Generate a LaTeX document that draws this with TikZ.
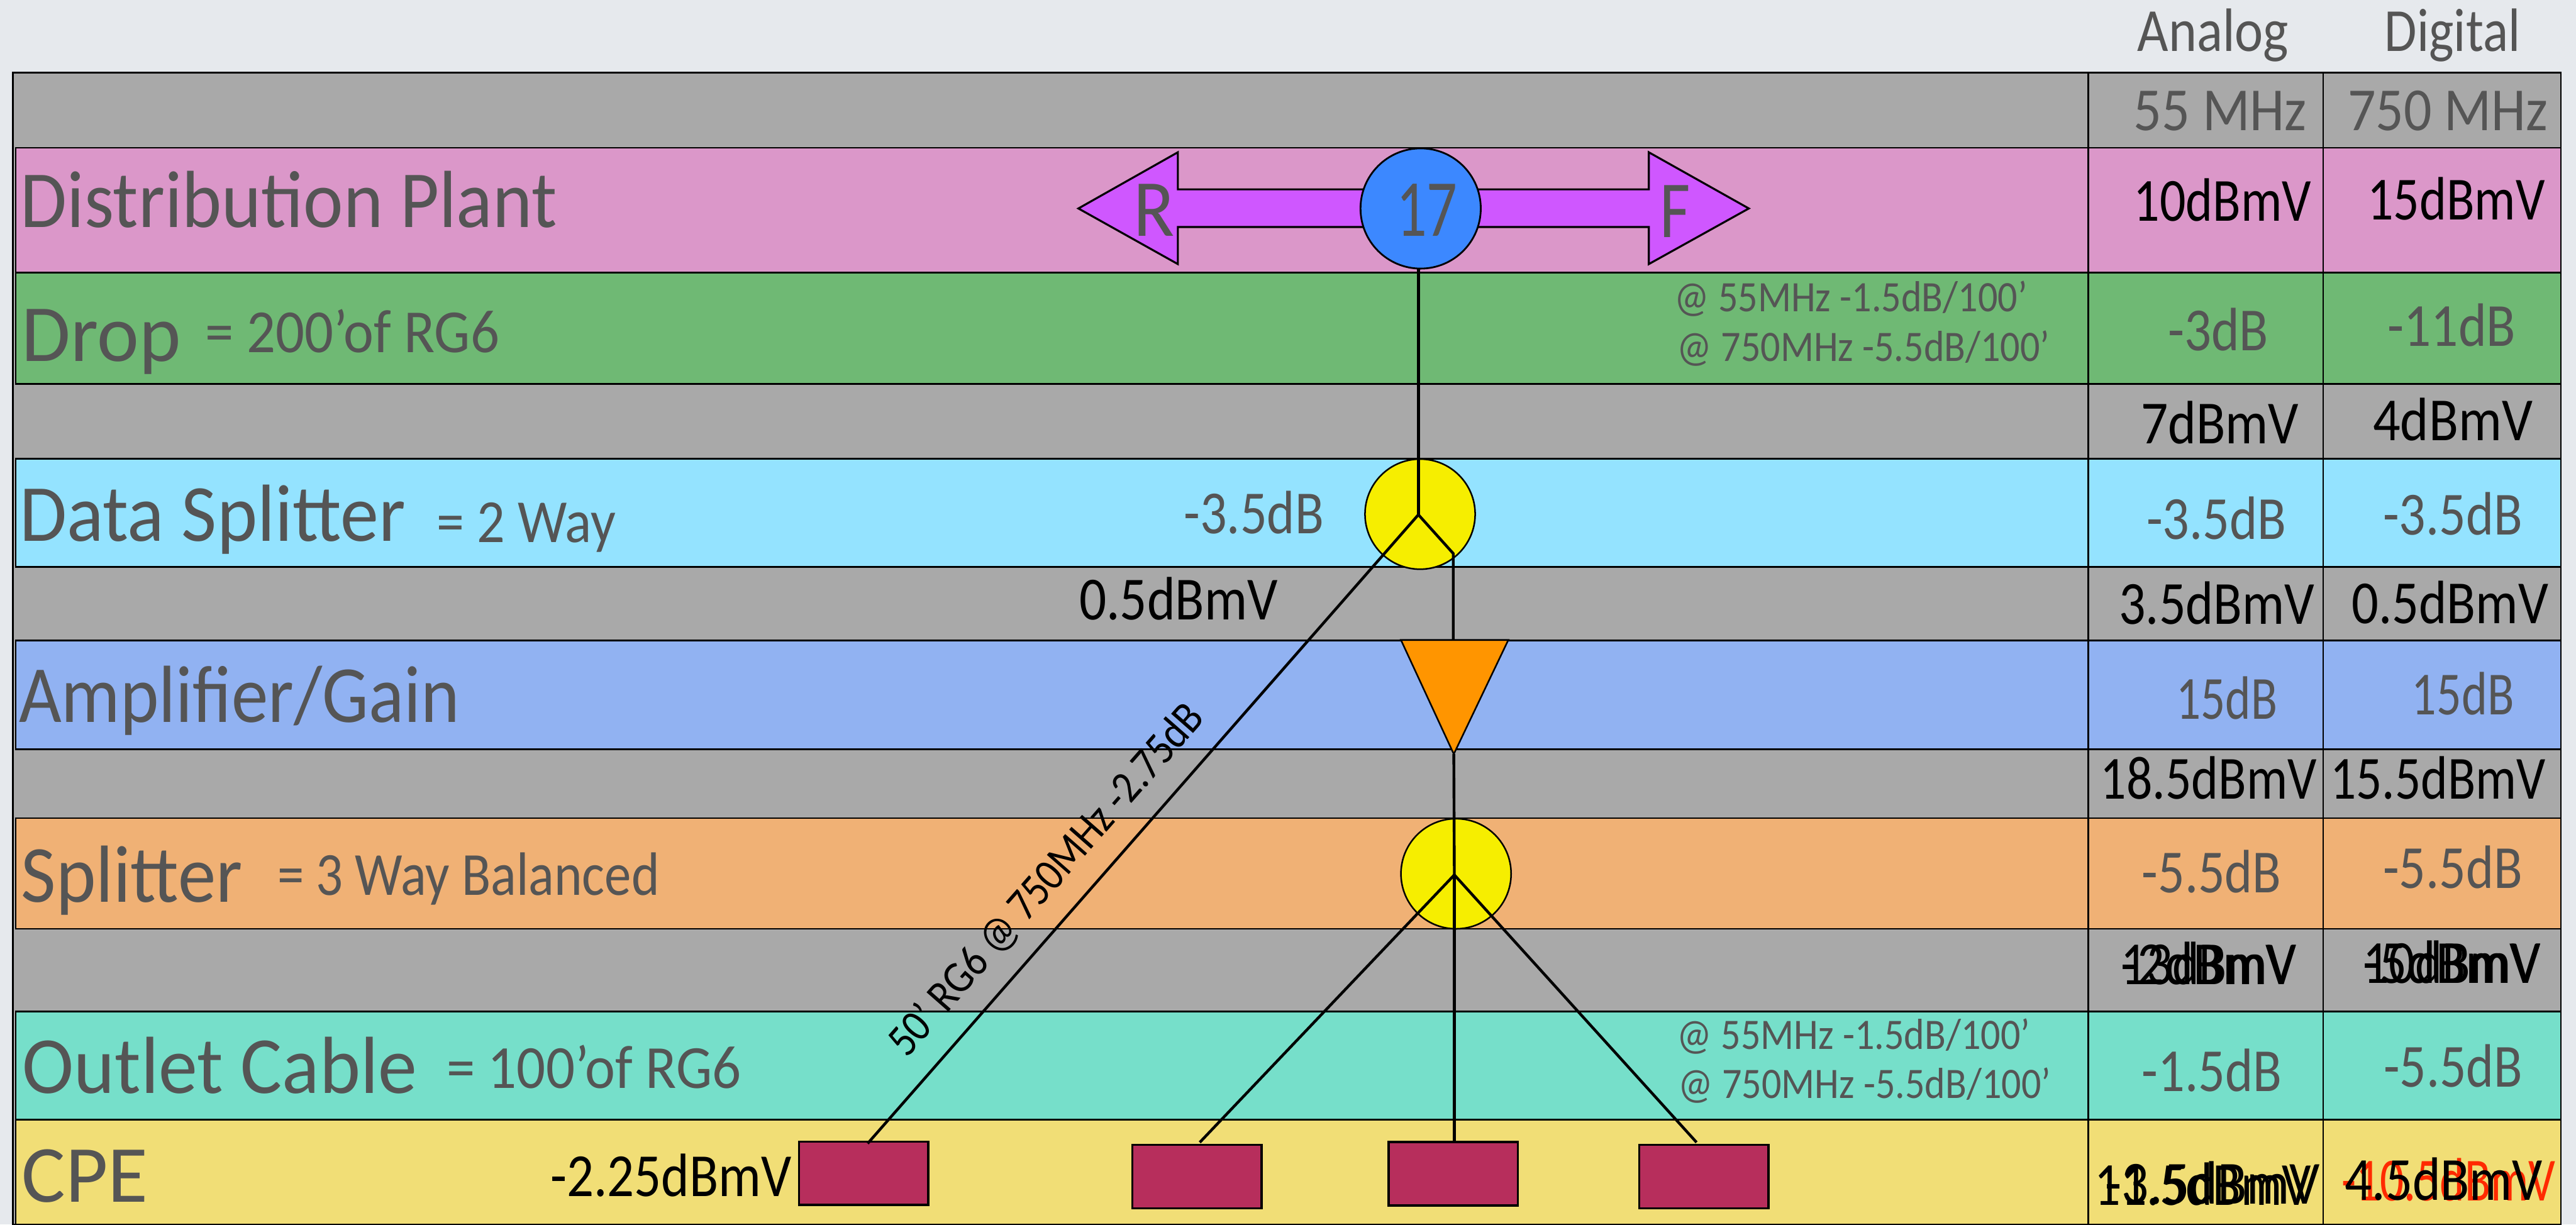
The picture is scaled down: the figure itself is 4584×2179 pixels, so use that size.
\documentclass[tikz,border=0pt]{standalone}
\usepackage{fontspec}
\usepackage{graphicx}
\setmainfont{Carlito}
\setlength{\unitlength}{0.01cm}
\definecolor{pagebg}{HTML}{E6E9ED}
\definecolor{rowgray}{HTML}{A9A9A9}
\definecolor{rowpink}{HTML}{DB97C9}
\definecolor{rowgreen}{HTML}{6FB974}
\definecolor{rowsky}{HTML}{94E3FF}
\definecolor{rowblue}{HTML}{91B2F2}
\definecolor{roworange}{HTML}{F0B175}
\definecolor{rowteal}{HTML}{76DFCA}
\definecolor{rowyellow}{HTML}{F1DE76}
\definecolor{arrowpurple}{HTML}{CF57FF}
\definecolor{nodeblue}{HTML}{3C88FF}
\definecolor{splityellow}{HTML}{F6EE00}
\definecolor{ampor}{HTML}{FF9500}
\definecolor{cpered}{HTML}{B72E5C}
\definecolor{txtgray}{HTML}{555555}
\definecolor{txtred}{HTML}{FF2A00}
\tikzset{
  big/.style={font=\fontsize{41}{48}\selectfont,text=txtgray},
  midg/.style={font=\fontsize{31}{36}\selectfont,text=txtgray},
  midk/.style={font=\fontsize{31}{36}\selectfont,text=black},
  midr/.style={font=\fontsize{31}{36}\selectfont,text=txtred},
  note/.style={font=\fontsize{22}{26}\selectfont,text=txtgray},
  rot/.style={font=\fontsize{23}{27}\selectfont,text=black},
  cellline/.style={draw=black,line width=0.9pt},
  wire/.style={draw=black,line width=1.4pt},
  splitter/.style={circle,draw=black,line width=0.8pt,fill=splityellow,inner sep=0pt,minimum size=196\unitlength},
  cpebox/.style={rectangle,draw=black,line width=1.1pt,fill=cpered,inner sep=0pt,minimum width=230\unitlength,minimum height=113\unitlength},
}
\newcommand{\lbl}[6]{\node[#5,anchor=base west,inner sep=0pt] (#1) at (#2,#3) {\resizebox{#4\unitlength}{\height}{#6}};}
\newcommand{\band}[3]{\draw[cellline,fill=#3] (28,#1) rectangle (4557,#2);}
\begin{document}
\begin{tikzpicture}[x=0.01cm,y=-0.01cm]
\useasboundingbox (0,0) rectangle (4584,2179);
\fill[pagebg] (0,0) rectangle (4584,2179);
% table
\draw[cellline,fill=rowgray] (23,129) rectangle (4557,2179);
\band{263}{485}{rowpink}
\band{485}{683}{rowgreen}
\band{816}{1009}{rowsky}
\band{1140}{1333}{rowblue}
\band{1456}{1653}{roworange}
\band{1800}{1993}{rowteal}
\band{1993}{2179}{rowyellow}
\draw[cellline] (3716,129) -- (3716,2179) (4134,129) -- (4134,2179);
% headings
\lbl{hAnalog}{3803}{91}{269}{midg}{Analog}
\lbl{hDigital}{4243}{91}{241}{midg}{Digital}
\lbl{h55}{3796}{232}{308}{midg}{55 MHz}
\lbl{h750}{4177}{232}{356}{midg}{750 MHz}
% row titles
\lbl{tDist}{36}{405}{955}{big}{Distribution Plant}
\lbl{tDrop}{38}{643}{283}{big}{Drop}
\lbl{tDropN}{365}{627}{523}{midg}{= 200’of RG6}
\lbl{tData}{34}{963}{687}{big}{Data Splitter}
\lbl{tDataN}{777}{965}{318}{midg}{= 2 Way}
\lbl{tAmp}{33}{1285}{784}{big}{Amplifier/Gain}
\lbl{tSplit}{37}{1605}{394}{big}{Splitter}
\lbl{tSplitN}{493}{1593}{680}{midg}{= 3 Way Balanced}
\lbl{tOut}{39}{1946}{703}{big}{Outlet Cable}
\lbl{tOutN}{794}{1937}{524}{midg}{= 100’of RG6}
\lbl{tCpe}{38}{2139}{225}{big}{CPE}
% notes
\lbl{nA}{2979}{555}{628}{note}{@ 55MHz -1.5dB/100’}
\lbl{nB}{2984}{643}{663}{note}{@ 750MHz -5.5dB/100’}
\lbl{nC}{2984}{1867}{628}{note}{@ 55MHz -1.5dB/100’}
\lbl{nD}{2986}{1955}{663}{note}{@ 750MHz -5.5dB/100’}
% values analog / digital
\lbl{a1}{3796}{393}{316}{midk}{10dBmV}
\lbl{d1}{4212}{391}{316}{midk}{15dBmV}
\lbl{a2}{3857}{624}{179}{midg}{-3dB}
\lbl{d2}{4248}{616}{228}{midg}{-11dB}
\lbl{a3}{3809}{789}{281}{midk}{7dBmV}
\lbl{d3}{4222}{784}{284}{midk}{4dBmV}
\lbl{a4}{3819}{960}{249}{midg}{-3.5dB}
\lbl{d4}{4240}{952}{248}{midg}{-3.5dB}
\lbl{a5}{3770}{1111}{348}{midk}{3.5dBmV}
\lbl{d5}{4184}{1110}{350}{midk}{0.5dBmV}
\lbl{a6}{3872}{1280}{180}{midg}{15dB}
\lbl{d6}{4291}{1272}{182}{midg}{15dB}
\lbl{a7}{3737}{1422}{385}{midk}{18.5dBmV}
\lbl{d7}{4146}{1422}{383}{midk}{15.5dBmV}
\lbl{a8}{3811}{1589}{248}{midg}{-5.5dB}
\lbl{d8}{4240}{1581}{248}{midg}{-5.5dB}
\lbl{a9}{3773}{1752}{313}{midk}{13dBmV}
\lbl{a9b}{3773}{1752}{313}{midk}{-2dBmV}
\lbl{d9}{4204}{1750}{316}{midk}{10dBmV}
\lbl{d9b}{4204}{1750}{316}{midk}{-5dBmV}
\lbl{a10}{3811}{1942}{249}{midg}{-1.5dB}
\lbl{d10}{4241}{1934}{247}{midg}{-5.5dB}
\lbl{a11}{3727}{2145}{385}{midk}{11.5dBmV}
\lbl{a11b}{3746}{2143}{382}{midk}{-3.5dBmV}
\lbl{d11r}{4166}{2137}{381}{midr}{-10.5dBmV}
\lbl{d11}{4172}{2136}{352}{midk}{4.5dBmV}
% side values
\lbl{sLoss}{2106}{950}{249}{midg}{-3.5dB}
\lbl{sHalf}{1920}{1103}{353}{midk}{0.5dBmV}
\lbl{sCpe}{979}{2129}{429}{midk}{-2.25dBmV}
% double arrow
\draw[draw=black,line width=1pt,fill=arrowpurple]
  (1919,371) -- (2096,271) -- (2096,337) -- (2934,337) -- (2934,271) -- (3112,371)
  -- (2934,470) -- (2934,404) -- (2096,404) -- (2096,470) -- cycle;
\lbl{lR}{2017}{420}{73}{big}{R}
\lbl{lF}{2953}{422}{54}{big}{F}
% devices
\node[circle,draw=black,line width=0.9pt,fill=nodeblue,inner sep=0pt,minimum size=214\unitlength] (plant) at (2528,371) {};
\lbl{l17}{2484}{420}{109}{big}{17}
\node[splitter] (splitA) at (2527,915) {};
\node[splitter] (splitB) at (2591,1555) {};
\node[cpebox] (cpeA) at (1537,2088) {};
\node[cpebox] (cpeB) at (2130,2094) {};
\node[cpebox] (cpeC) at (2586,2089) {};
\node[cpebox] (cpeD) at (3032,2094) {};
\coordinate (ampL) at (2493,1139);
\coordinate (ampR) at (2684,1139);
\coordinate (ampIn) at (2586,1139);
\coordinate (ampOut) at (2587,1342);
\draw[draw=black,line width=0.8pt,fill=ampor] (ampL) -- (ampR) -- (ampOut) -- cycle;
% connectors
\coordinate (plantOut) at (2524,479);
\coordinate (hubA) at (2524,916);
\coordinate (kinkA) at (2586,985);
\coordinate (hubB) at (2588,1557);
\coordinate (inA) at (1544,2035);
\coordinate (inB) at (2135,2033);
\coordinate (inD) at (3019,2033);
\draw[wire] (plantOut) -- (hubA);
\draw[wire] (hubA) -- (inA);
\draw[wire] (hubA) -- (kinkA) -- (ampIn);
\draw[wire] (ampOut) -- (hubB);
\draw[wire] (hubB) -- (inB);
\draw[wire] (hubB) -- (cpeC.north -| hubB);
\draw[wire] (hubB) -- (inD);
% rotated label
\node[rot,anchor=base west,inner sep=0pt,rotate=48.7] (cableLbl) at (1614,1885) {\resizebox{805\unitlength}{\height}{50’ RG6 @ 750MHz -2.75dB}};
\end{tikzpicture}
\end{document}
